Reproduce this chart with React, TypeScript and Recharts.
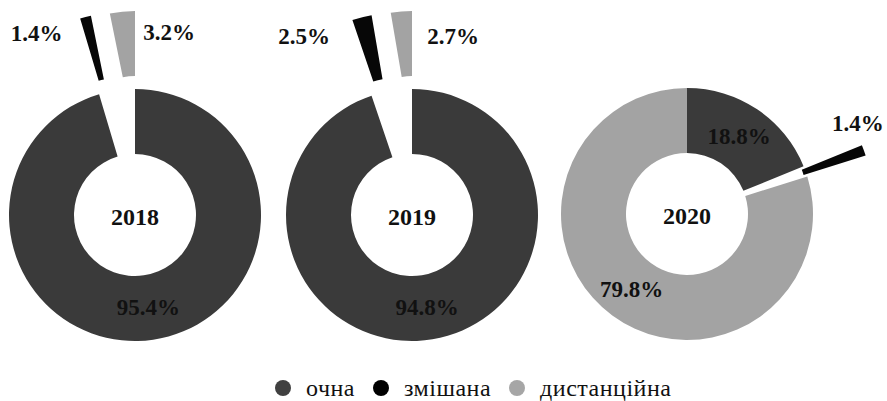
import React from "react";
import { Cell, Legend, Pie, PieChart } from "recharts";

const years = ["2018", "2019", "2020"];
const categories = ["очна", "змішана", "дистанційна"];
const ochna = [95.4, 94.8, 18.8];
const zmishana = [1.4, 2.5, 1.4];
const dystantsiina = [3.2, 2.7, 79.8];

const colors = ["#3a3a3a", "#070707", "#a3a3a3"];
const legendColors = ["#404040", "#000000", "#a6a6a6"];

const FONT = "Liberation Serif";
const RAD = Math.PI / 180;
const INNER = 61;
const OUTER = 126;

// where each donut sits and which slices are pulled out
const layout = [
  {
    cx: 135,
    cy: 215,
    explode: [0, 78, 78],
    explodeDir: [null, null, 90], // gray piece goes straight up
    tag: [null, { dx: -23, dy: 16, anchor: "end" }, { dx: 21, dy: 21, anchor: "start" }],
  },
  {
    cx: 412,
    cy: 215,
    explode: [0, 78, 78],
    explodeDir: [null, null, 90],
    tag: [null, { dx: -32, dy: 19, anchor: "end" }, { dx: 26, dy: 25, anchor: "start" }],
  },
  {
    cx: 687,
    cy: 214,
    explode: [0, 62, 0],
    explodeDir: [null, null, null],
    tag: [null, { dx: -6, dy: -27, anchor: "middle" }, null],
  },
];

const rowsFor = (y: number) =>
  categories.map((name, i) => ({
    name,
    value: [ochna, zmishana, dystantsiina][i][y],
  }));

const midAngle = (vals: number[], i: number) => {
  const total = vals.reduce((a, b) => a + b, 0);
  const before = vals.slice(0, i).reduce((a, b) => a + b, 0);
  return 90 - (360 * (before + vals[i] / 2)) / total;
};

const pct = (v: number) => `${v.toFixed(1)}%`;

export default function App() {
  const pies: React.ReactNode[] = [];
  const yearText: React.ReactNode[] = [];

  years.forEach((year, y) => {
    const L = layout[y];
    const rows = rowsFor(y);
    const vals = rows.map((r) => r.value);

    // base ring with the slices that stay in place
    pies.push(
      <Pie
        key={`base-${year}`}
        data={rows}
        dataKey="value"
        nameKey="name"
        cx={L.cx}
        cy={L.cy}
        innerRadius={INNER}
        outerRadius={OUTER}
        startAngle={90}
        endAngle={-270}
        stroke="none"
        labelLine={false}
        isAnimationActive={false}
        label={(p: any) => {
          if (L.explode[p.index]) return null;
          const r = (INNER + OUTER) / 2;
          const x = L.cx + r * Math.cos(p.midAngle * RAD);
          const yy = L.cy - r * Math.sin(p.midAngle * RAD);
          return (
            <text
              key={`lb-${year}-${p.index}`}
              x={x}
              y={yy}
              textAnchor="middle"
              dominantBaseline="central"
              fontFamily={FONT}
              fontWeight="bold"
              fontSize={23}
              fill="#111"
            >
              {pct(p.value)}
            </text>
          );
        }}
      >
        {rows.map((r, i) => (
          <Cell key={r.name} fill={L.explode[i] ? "transparent" : colors[i]} stroke="none" />
        ))}
      </Pie>
    );

    // pulled-out slices
    rows.forEach((row, i) => {
      const d = L.explode[i];
      if (!d) return;
      const m = midAngle(vals, i);
      const dir = L.explodeDir[i] ?? m;
      const ecx = L.cx + d * Math.cos(dir * RAD);
      const ecy = L.cy - d * Math.sin(dir * RAD);
      const tag = L.tag[i]!;
      pies.push(
        <Pie
          key={`ex-${year}-${i}`}
          data={rows}
          dataKey="value"
          nameKey="name"
          cx={ecx}
          cy={ecy}
          innerRadius={INNER}
          outerRadius={OUTER}
          startAngle={90}
          endAngle={-270}
          stroke="none"
          labelLine={false}
          isAnimationActive={false}
          label={(p: any) => {
            if (p.index !== i) return null;
            const px = ecx + OUTER * Math.cos(p.midAngle * RAD);
            const py = ecy - OUTER * Math.sin(p.midAngle * RAD);
            return (
              <text
                key={`lx-${year}-${i}`}
                x={px + tag.dx}
                y={py + tag.dy}
                textAnchor={tag.anchor as any}
                dominantBaseline="central"
                fontFamily={FONT}
                fontWeight="bold"
                fontSize={23}
                fill="#111"
              >
                {pct(p.value)}
              </text>
            );
          }}
        >
          {rows.map((r, j) => (
            <Cell key={r.name} fill={j === i ? colors[j] : "transparent"} stroke="none" />
          ))}
        </Pie>
      );
    });

    yearText.push(
      <text
        key={`yr-${year}`}
        x={L.cx}
        y={L.cy + 2}
        textAnchor="middle"
        dominantBaseline="central"
        fontFamily={FONT}
        fontWeight="bold"
        fontSize={24}
        fill="#111"
      >
        {year}
      </text>
    );
  });

  return (
    <div style={{ position: "absolute", left: 0, top: 0, background: "#fff" }}>
      <PieChart width={887} height={401} margin={{ top: 0, right: 0, bottom: 0, left: 0 }}>
        {pies}
        {yearText}
        <Legend
          verticalAlign="bottom"
          align="left"
          content={() => (
            <div
              style={{
                display: "flex",
                alignItems: "center",
                paddingLeft: 275,
                height: 26,
                fontFamily: FONT,
                fontSize: 24,
                color: "#111",
              }}
            >
              {categories.map((c, i) => (
                <div key={c} style={{ display: "flex", alignItems: "center", marginRight: 18 }}>
                  <svg width={16} height={16} style={{ display: "block" }}>
                    <circle cx={8} cy={8} r={8} fill={legendColors[i]} />
                  </svg>
                  <span style={{ marginLeft: 15, lineHeight: "26px", fontFamily: FONT, letterSpacing: 0.5 }}>
                    {c}
                  </span>
                </div>
              ))}
            </div>
          )}
        />
      </PieChart>
    </div>
  );
}
